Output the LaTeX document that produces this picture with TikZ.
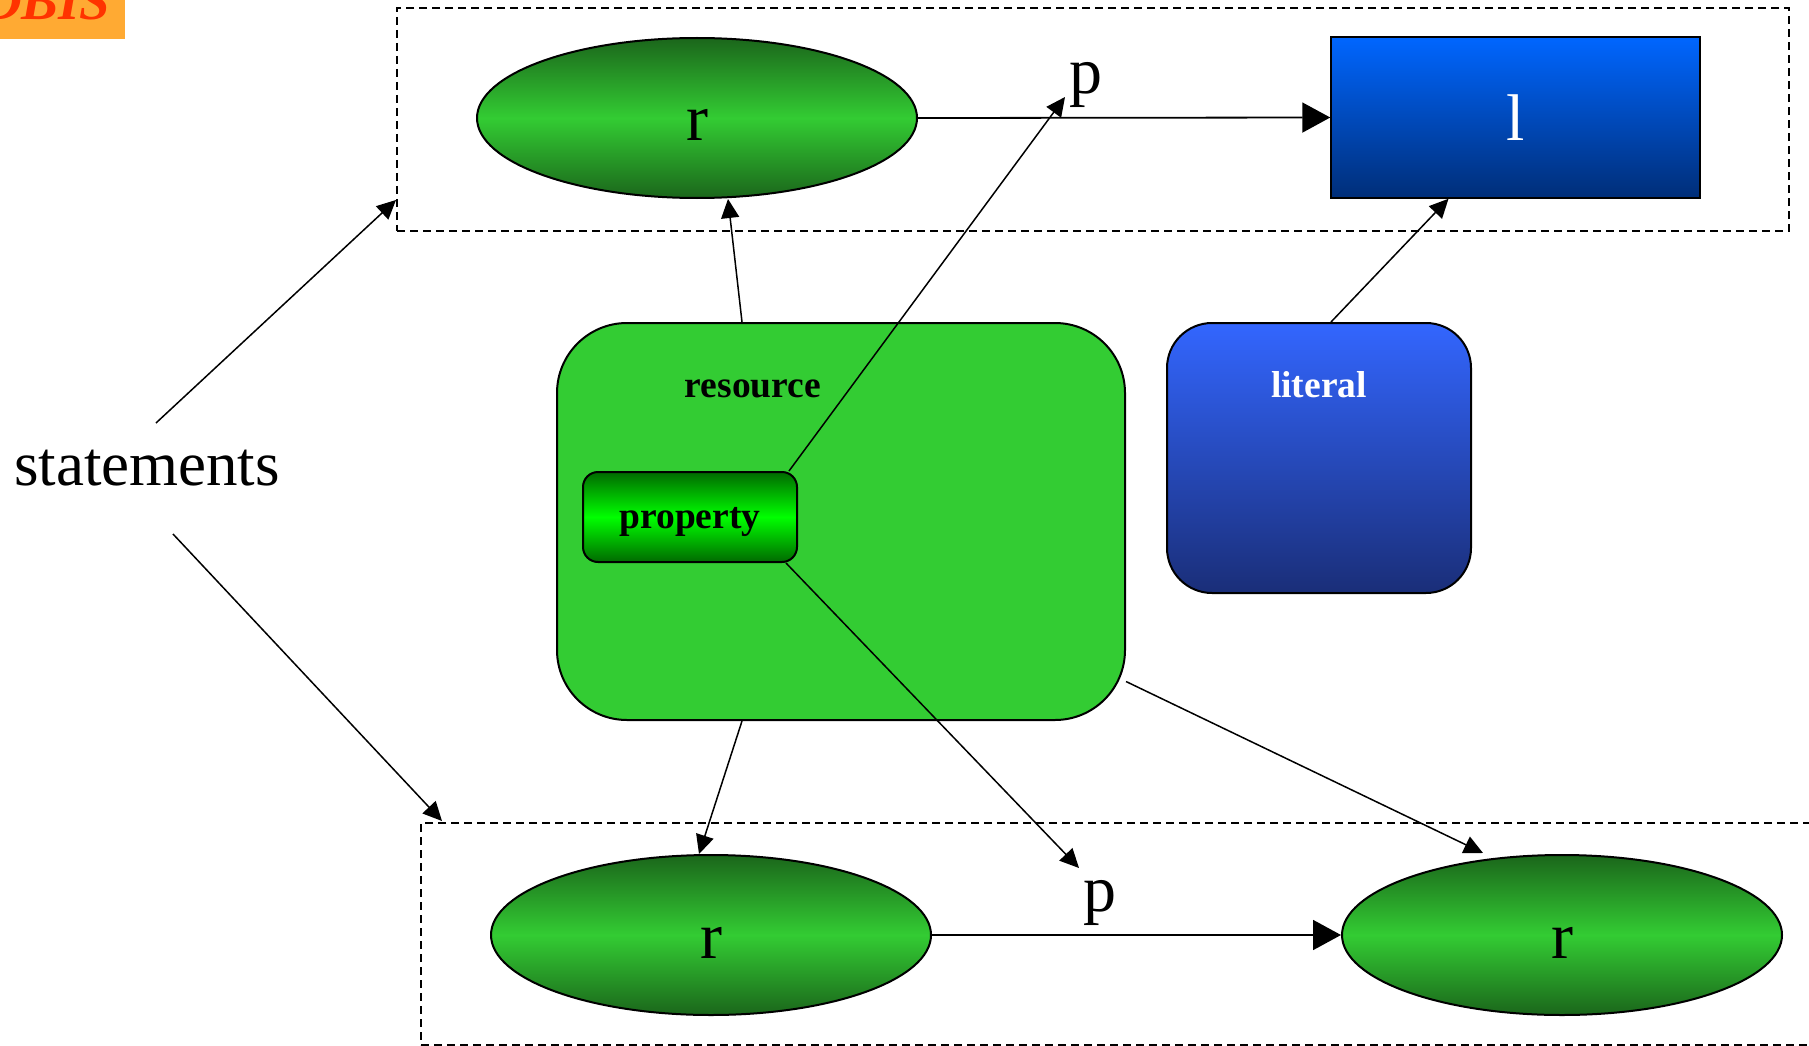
\documentclass[tikz,border=0pt]{standalone}
\usepackage{fontspec}
\setmainfont{Liberation Serif}
\usetikzlibrary{arrows.meta,calc,shapes.geometric}
\definecolor{rgreen}{HTML}{33CC33}
\definecolor{dgreen}{HTML}{1B661B}
\definecolor{pgreen}{HTML}{00FF00}
\definecolor{pdark}{HTML}{006A00}
\definecolor{lblue}{HTML}{3366FF}
\definecolor{ldark}{HTML}{1A2E78}
\definecolor{bblue}{HTML}{0066FF}
\definecolor{bdark}{HTML}{002E78}
\definecolor{dbisbg}{HTML}{FFAA33}
\definecolor{dbisfg}{HTML}{FF3300}
\begin{document}
\begin{tikzpicture}[x=1pt,y=-1pt,
  resell/.style={ellipse, draw, line width=2pt, minimum width=440pt, minimum height=160pt, inner sep=0pt,
    top color=dgreen, bottom color=dgreen, middle color=rgreen, font=\fontsize{66}{70}\selectfont,
    text height=46pt, text depth=0pt},
  big/.style={font=\fontsize{66}{70}\selectfont, inner sep=0pt},
  conn/.style={line width=1.5pt, -{Triangle[length=19pt,width=18pt]}},
  bigconn/.style={line width=1.8pt, -{Triangle[length=28pt,width=30pt]}},
  grp/.style={draw, line width=1.5pt, dash pattern=on 8pt off 5pt, inner sep=0pt},
  lbl/.style={font=\fontsize{37.5}{40}\selectfont\bfseries, inner sep=0pt}
]
\useasboundingbox (0,0) rectangle (1809,1046);
% DBIS tag
\begin{scope}
\clip (0,0) rectangle (1809,1046);
\fill[dbisbg] (-20,-20) rectangle (125,39);
\node[anchor=base west, inner sep=0pt, text=dbisfg, font=\fontsize{55}{60}\selectfont\bfseries\itshape] (dbis) at (-18,20) {DBIS};
% groups
\node[grp, minimum width=1392pt, minimum height=223pt] (g1) at (1093,119.5) {};
\node[grp, minimum width=1429pt, minimum height=222pt] (g2) at (1135.5,934) {};
\end{scope}
% nodes
\node[resell] (r1) at (697,118) {r};
\node[draw, line width=1.5pt, minimum width=369pt, minimum height=161pt, top color=bblue, bottom color=bdark,
  text=white, big] (lit1) at (1515.5,117.5) {l};
\node[resell] (r2) at (711,935) {r};
\node[resell] (r3) at (1562,935) {r};
\node[draw, line width=2pt, rounded corners=70pt, fill=rgreen, minimum width=568pt, minimum height=397pt] (res) at (841,521.5) {};
\node[lbl, anchor=base] (reslbl) at (753,397) {resource};
\node[draw, line width=2pt, rounded corners=15pt, top color=pdark, bottom color=pdark, middle color=pgreen,
  minimum width=214pt, minimum height=90pt, lbl, text height=30pt, text depth=8pt] (prop) at (690,517) {property};
\node[draw, line width=2pt, rounded corners=45pt, top color=lblue, bottom color=ldark,
  minimum width=304pt, minimum height=270pt] (lit) at (1319,458) {};
\node[lbl, anchor=base, text=white] (litlbl) at (1319,397) {literal};
\node[big, anchor=base] (p1) at (1086,94) {p};
\node[big, anchor=base] (p2) at (1100,911) {p};
\node[font=\fontsize{63}{70}\selectfont, inner sep=0pt, anchor=base] (stm) at (147,485) {statements};
% coordinates
\coordinate (s1) at (156,423);
\coordinate (s2) at (173,534);
\coordinate (g1in) at (396,200);
\coordinate (g2in) at (442,821);
\coordinate (p1in) at (1065,97);
\coordinate (p2in) at (1079,868);
\coordinate (r3in) at (1483,853);
% connectors
\draw[conn] (s1) -- (g1in);
\draw[conn] (s2) -- (g2in);
\draw[conn] ($(res.north)+(-99,0)$) -- ($(r1.south)+(31,0)$);
\draw[conn] ($(res.south)+(-99,0)$) -- ($(r2.north)+(-12,0)$);
\draw[conn] ($(res.east)+(0,160)$) -- (r3in);
\draw[conn] ($(lit.north)+(12,0)$) -- ($(lit1.south)+(-67,0)$);
\draw[conn] ($(prop.north east)+(-9,0)$) -- (p1in);
\draw[conn] ($(prop.south east)+(-12,0)$) -- (p2in);
\draw[bigconn] (r1.east) -- (lit1.west);
\draw[bigconn] (r2.east) -- (r3.west);
\end{tikzpicture}
\end{document}
